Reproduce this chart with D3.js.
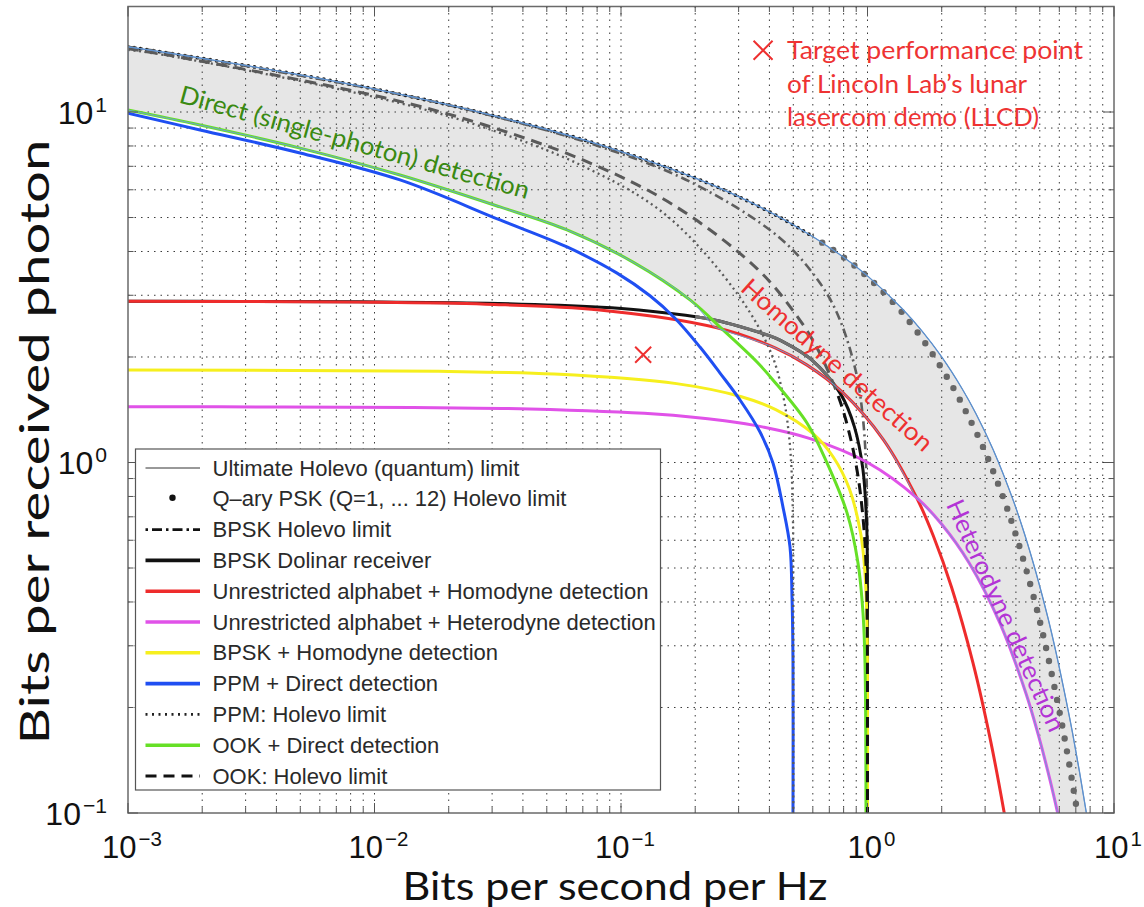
<!DOCTYPE html>
<html><head><meta charset="utf-8">
<script src="https://cdn.jsdelivr.net/npm/d3@7"></script>
<style>body{margin:0;background:#fff} svg{display:block}</style>
</head><body><svg id="c" width="1144" height="907"></svg>
<script>
// ---------------- data (x: bits/s/Hz, y: bits per received photon) ----------------
const holevo = [[0.001,15.35],[0.00147,14.73],[0.00394,13.14],[0.01141,11.41],[0.02947,9.82],[0.08094,8.09],[0.1957,6.52],[0.290,5.80],[0.4834,4.83],[0.780,3.90],[1.013,3.38],[1.377,2.755],[1.662,2.374],[2.0,2.0],[2.427,1.618],[2.755,1.377],[3.245,1.082],[3.900,0.780],[4.349,0.621],[4.834,0.483],[5.397,0.360],[5.80,0.290],[6.373,0.212],[6.78,0.170],[7.237,0.1316],[7.74,0.0992]];
const qpsk = [[0.001,15.35],[0.00394,13.14],[0.01141,11.41],[0.02947,9.82],[0.08094,8.09],[0.1957,6.52],[0.290,5.80],[0.4834,4.83],[0.780,3.90],[1.003,3.38],[1.336,2.755],[1.579,2.374],[1.87,2.0],[2.245,1.618],[2.535,1.377],[2.985,1.082],[3.588,0.780],[4.001,0.621],[4.447,0.483],[4.965,0.360],[5.336,0.290],[5.863,0.212],[6.238,0.170],[6.658,0.1316],[7.12,0.0992]];
const bpskHolevo = [[0.001,15.35],[0.001473,14.73],[0.011398,11.40],[0.029388,9.796],[0.080134,8.013],[0.18995,6.332],[0.43862,4.386],[0.6458,3.229],[0.77028,2.568],[0.90005,1.800],[0.95566,1.365],[0.98676,0.987],[0.99821,0.666],[0.99976,0.500],[1.0,0.2],[1.0,0.1]];
const dolinar = [[0.001,2.884],[0.00288,2.882],[0.00862,2.874],[0.02847,2.847],[0.0832,2.773],[0.1182,2.724],[0.2077,2.596],[0.253,2.530],[0.4111,2.284],[0.4454,2.227],[0.5907,1.969],[0.7808,1.562],[0.885,1.264],[0.9577,0.958],[0.9925,0.662],[0.9987,0.499],[0.99997,0.333],[1.0,0.2],[1.0,0.1]];
const homodyne = [[0.001,2.883],[0.00288,2.880],[0.008605,2.868],[0.02829,2.829],[0.081746,2.725],[0.24271,2.427],[0.42398,2.120],[0.56877,1.896],[0.79248,1.585],[1.16096,1.161],[1.58496,0.792],[1.85022,0.617],[2.19616,0.439],[2.67877,0.268],[3.16993,0.1585],[3.5902,0.0997]];
const heterodyne = [[0.001,1.4424],[0.0043214,1.4405],[0.014355,1.4355],[0.042644,1.4215],[0.137504,1.375],[0.263034,1.315],[0.378512,1.2617],[0.584963,1.170],[1.0,1.0],[1.58496,0.7925],[2.0,0.6667],[2.58496,0.517],[3.45943,0.346],[4.39232,0.2196],[4.9542,0.1651],[5.52356,0.1227],[5.93073,0.0988]];
const bpskHomodyne = [[0.001,1.837],[0.018203,1.820],[0.053628,1.788],[0.16794,1.679],[0.30791,1.540],[0.4244,1.415],[0.6028,1.206],[0.72592,1.037],[0.8434,0.843],[0.93874,0.626],[0.976,0.488],[0.9965,0.332],[0.99995,0.2],[1.0,0.1]];
const ppmDirect = [[0.001,9.915],[0.00196,8.89],[0.00499,7.64],[0.01269,6.40],[0.0323,4.92],[0.0604,4.12],[0.0964,3.47],[0.1311,2.99],[0.1656,2.58],[0.2091,2.135],[0.2522,1.80],[0.3040,1.508],[0.3664,1.222],[0.4135,0.997],[0.4541,0.746],[0.4849,0.574],[0.494,0.4134],[0.4986,0.268],[0.4986,0.1]];
const ppmHolevo = [[0.001,15.05],[0.00145,14.49],[0.01088,10.88],[0.02723,9.08],[0.0701,7.01],[0.1523,5.08],[0.2997,2.997],[0.408,2.04],[0.457,1.524],[0.480,1.200],[0.4908,0.982],[0.4981,0.7115],[0.4998,0.500],[0.5,0.2],[0.5,0.1]];
const ookDirect = [[0.001,10.13],[0.00196,9.18],[0.00499,7.89],[0.01269,6.61],[0.0323,5.36],[0.0604,4.61],[0.1119,3.73],[0.1905,2.91],[0.2593,2.39],[0.3562,1.935],[0.4135,1.72],[0.5682,1.296],[0.685,0.997],[0.826,0.718],[0.915,0.517],[0.959,0.372],[0.977,0.268],[0.986,0.1]];
const ookHolevo = [[0.001,15.15],[0.001453,14.53],[0.01098,10.98],[0.02763,9.21],[0.0723,7.23],[0.163,5.43],[0.357,3.57],[0.521,2.60],[0.629,2.10],[0.765,1.53],[0.845,1.207],[0.915,0.915],[0.968,0.645],[0.988,0.494],[0.998,0.333],[1.0,0.2],[1.0,0.1]];
const crossGreenRed = [0.235, 2.46];
const crossRedPurple = [1.55, 0.81];
const target = [0.123, 2.03];
const targetKey = [0.377, 15.0];
const xTickValues = [1e-3, 1e-2, 1e-1, 1, 10];
const xTickExps = ["\u22123", "\u22122", "\u22121", "0", "1"];
const yTickValues = [0.1, 1, 10];
const yTickExps = ["\u22121", "0", "1"];
const legendLabels = ["Ultimate Holevo (quantum) limit","Q\u2013ary PSK (Q=1, ... 12) Holevo limit","BPSK Holevo limit","BPSK Dolinar receiver","Unrestricted alphabet + Homodyne detection","Unrestricted alphabet + Heterodyne detection","BPSK + Homodyne detection","PPM + Direct detection","PPM: Holevo limit","OOK + Direct detection","OOK: Holevo limit"];
const targetLines = ["Target performance point","of Lincoln Lab\u2019s lunar","lasercom demo (LLCD)"];

// ---------------- drawing ----------------
const svg = d3.select("#c");
const L = 128, R = 1114, T = 6.5, B = 813;
const x = d3.scaleLog().domain([1e-3, 10]).range([L, R]);
const y = d3.scaleLog().domain([0.1, 20]).range([B, T]);
const line = d3.line().x(d => x(d[0])).y(d => y(d[1])).curve(d3.curveCatmullRom.alpha(0.5));

const defs = svg.append("defs");
function clipRect(id, x0, y0, x1, y1){ defs.append("clipPath").attr("id",id).append("rect").attr("x",x0).attr("y",y0).attr("width",x1-x0).attr("height",y1-y0); }
clipRect("plot", L, T, R, B);
clipRect("qleft", L, T, x(0.6), B);
clipRect("qright", x(0.6), T, R, B);
clipRect("dgrey", x(0.2), T, x(0.72), B);
clipRect("oupper", L, T, R, y(1.6));
clipRect("olower", L, y(1.6), R, B);

const plot = svg.append("g").attr("clip-path","url(#plot)");

// grey band between the ultimate limit and the best practical receivers
const redSeg = [crossRedPurple].concat(homodyne.filter(d=>d[0]<crossRedPurple[0] && d[0]>crossGreenRed[0]).reverse(), [crossGreenRed]);
const purpSeg = heterodyne.filter(d=>d[0]>crossRedPurple[0]).reverse().concat([crossRedPurple]);
const greenSeg = [crossGreenRed].concat(ookDirect.filter(d=>d[0]<crossGreenRed[0]).reverse());
const bandPath = line(holevo) + line(purpSeg).replace(/^M/,"L") + line(redSeg).replace(/^M/,"L") + line(greenSeg).replace(/^M/,"L") + "Z";
plot.append("path").attr("d",bandPath).attr("fill","#e6e6e6").attr("stroke","none");

// grid
const xGrid = [], yGrid = [];
for (let k=-3;k<=0;k++) for (let m=1;m<=9;m++) xGrid.push(m*Math.pow(10,k));
for (let k=-1;k<=1;k++) for (let m=1;m<=9;m++) { const v=m*Math.pow(10,k); if (v<20) yGrid.push(v); }
const gridG = plot.append("g").attr("stroke","#3a3a3a").attr("stroke-width",1).attr("stroke-dasharray","1.5,5");
gridG.selectAll("line.gx").data(xGrid.filter(v=>v>1e-3)).join("line").attr("x1",d=>x(d)).attr("x2",d=>x(d)).attr("y1",T).attr("y2",B);
gridG.selectAll("line.gy").data(yGrid.filter(v=>v>0.1)).join("line").attr("y1",d=>y(d)).attr("y2",d=>y(d)).attr("x1",L).attr("x2",R);

function curve(data, color, width, dash, clip, cap){
  const p = plot.append("path").attr("d", line(data)).attr("fill","none").attr("stroke",color).attr("stroke-width",width).attr("stroke-linejoin","round");
  if (dash) p.attr("stroke-dasharray",dash);
  if (cap) p.attr("stroke-linecap",cap);
  if (clip) p.attr("clip-path","url(#"+clip+")");
  return p;
}
// Q-ary PSK dots
curve(qpsk, "#1a1a1a", 3.8, "0,6.4", "qleft", "round");
curve(qpsk, "#676767", 6.4, "0,13.2", "qright", "round");
// BPSK Holevo (dash-dot)
curve(bpskHolevo, "#5e5e5e", 2.6, "9,4,2,4");
// BPSK Dolinar
curve(dolinar, "#111", 3);
curve(dolinar, "#707070", 3.2, null, "dgrey");
curve(homodyne, "#ee2c2c", 3);
curve(heterodyne, "#e052e8", 3);
curve(bpskHomodyne, "#f6ef1e", 3);
curve(ppmDirect, "#1f4ff2", 3);
curve(ppmHolevo, "#5a5a5a", 2.3, "2,3.6");
curve(ookDirect, "#66e026", 3);
curve(ookHolevo, "#5a5a5a", 3, "11,7", "oupper");
curve(ookHolevo, "#111", 3, "11,7", "olower");
// band outline and ultimate limit
plot.append("path").attr("d",bandPath).attr("fill","none").attr("stroke","#6f9fd4").attr("stroke-width",1);
curve(holevo, "#5d8fcc", 1.3);

// target markers
function cross(cx, cy, h, g){
  g.append("path").attr("d",`M${cx-h},${cy-h}L${cx+h},${cy+h}M${cx-h},${cy+h}L${cx+h},${cy-h}`).attr("stroke","#ee3030").attr("stroke-width",2).attr("fill","none");
}
cross(x(target[0]), y(target[1]), 8, plot);
cross(x(targetKey[0]), y(targetKey[1]), 9.5, plot);
const tg = svg.append("g").attr("font-family","Lato, 'Open Sans', sans-serif").attr("font-size",25.5).attr("fill","#ee3333");
const tLens = [296, 240, 252];
targetLines.forEach((s,i)=>{
  tg.append("text").attr("x",787).attr("y",59+i*33.5).attr("textLength",tLens[i]).attr("lengthAdjust","spacingAndGlyphs").text(s);
});

// curve annotations
function label(txt, cx, cy, ang, color, len){
  svg.append("text").attr("transform",`translate(${cx},${cy}) rotate(${ang})`).attr("text-anchor","middle")
    .attr("dominant-baseline","central").attr("font-family","Lato, 'Open Sans', sans-serif").attr("font-size",25)
    .attr("fill",color).attr("textLength",len).attr("lengthAdjust","spacingAndGlyphs").text(txt);
}
label("Direct (single-photon) detection", 355, 141, 15.5, "#3a8a12", 362);
label("Homodyne detection", 838, 364, 41.5, "#ee3030", 246);
label("Heterodyne detection", 1007, 615, 65.5, "#b334d6", 252);

// axes frame and ticks
const ax = svg.append("g");
ax.append("rect").attr("x",L).attr("y",T).attr("width",R-L).attr("height",B-T).attr("fill","none").attr("stroke","#6a6a6a").attr("stroke-width",1.5);
const tk = ax.append("g").attr("stroke","#555").attr("stroke-width",1);
xGrid.concat([10]).forEach(v=>{
  const len = xTickValues.includes(v) ? 10 : 5.5, px = x(v);
  tk.append("line").attr("x1",px).attr("x2",px).attr("y1",B).attr("y2",B-len);
  tk.append("line").attr("x1",px).attr("x2",px).attr("y1",T).attr("y2",T+len);
});
yGrid.forEach(v=>{
  const len = yTickValues.includes(v) ? 10 : 5.5, py = y(v);
  tk.append("line").attr("y1",py).attr("y2",py).attr("x1",L).attr("x2",L+len);
  tk.append("line").attr("y1",py).attr("y2",py).attr("x1",R).attr("x2",R-len);
});

// tick labels
function powLabel(px, py, exp, anchor, fs){
  const t = ax.append("text").attr("x",px).attr("y",py).attr("text-anchor",anchor)
    .attr("font-family","'Liberation Sans', Arial, sans-serif").attr("font-size",fs).attr("fill","#111");
  t.append("tspan").text("10");
  t.append("tspan").attr("font-size",fs*0.66).attr("dx",2).attr("dy",-12).text(exp);
}
xTickValues.forEach((v,i)=>powLabel(x(v)+4, 858, xTickExps[i], "middle", 31));
yTickValues.forEach((v,i)=>powLabel(107, y(v)+11.5, yTickExps[i], "end", 32));

// axis titles
svg.append("text").attr("x",615).attr("y",900).attr("text-anchor","middle").attr("font-family","Lato, 'Open Sans', sans-serif")
  .attr("font-size",38).attr("fill","#111").attr("textLength",425).attr("lengthAdjust","spacingAndGlyphs").text("Bits per second per Hz");
svg.append("text").attr("transform","translate(49,442) rotate(-90)").attr("text-anchor","middle").attr("font-family","Lato, 'Open Sans', sans-serif")
  .attr("font-size",40).attr("fill","#111").attr("textLength",605).attr("lengthAdjust","spacingAndGlyphs").text("Bits per received photon");

// legend
const lg = svg.append("g").attr("transform","translate(135.5,449)");
lg.append("rect").attr("width",525).attr("height",341).attr("fill","#fff").attr("stroke","#555").attr("stroke-width",1.2);
const legStyles = [
  {c:"#333", w:1}, {dot:true}, {c:"#111", w:2.6, d:"2.5,4,10,4"}, {c:"#111", w:3.6},
  {c:"#ee2c2c", w:3.6}, {c:"#e052e8", w:3.6}, {c:"#f6ef1e", w:3.6}, {c:"#1f4ff2", w:3.6},
  {c:"#222", w:2.6, d:"2,4.5"}, {c:"#66e026", w:3.6}, {c:"#111", w:3, d:"11,7"}
];
legendLabels.forEach((s,i)=>{
  const yy = 19 + i*30.8, st = legStyles[i];
  if (st.dot) lg.append("circle").attr("cx",37).attr("cy",yy-1).attr("r",3.2).attr("fill","#111");
  else { const l = lg.append("line").attr("x1",10).attr("x2",64.5).attr("y1",yy).attr("y2",yy).attr("stroke",st.c).attr("stroke-width",st.w);
    if (st.d) l.attr("stroke-dasharray",st.d); }
  lg.append("text").attr("x",77).attr("y",yy+7.5).attr("font-family","'Liberation Sans', Arial, sans-serif").attr("font-size",22).attr("fill","#2a2a2a").text(s);
});
</script></body></html>
